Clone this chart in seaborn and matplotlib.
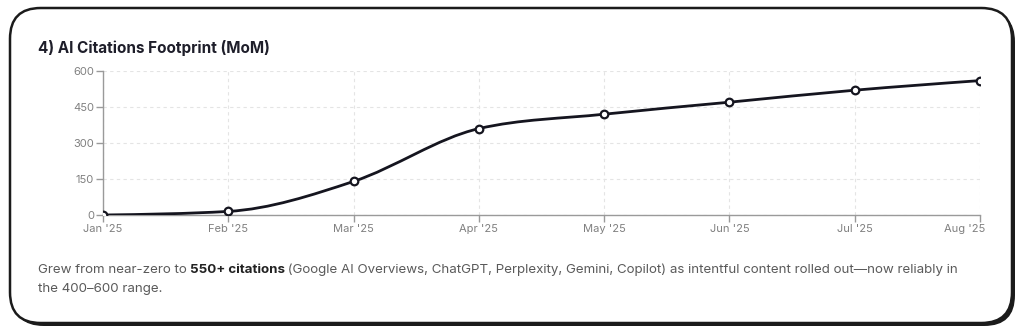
import numpy as np
import pandas as pd
import matplotlib
matplotlib.use("Agg")
import matplotlib.pyplot as plt
import matplotlib.transforms as mtransforms
import seaborn as sns
from matplotlib.patches import FancyBboxPatch, PathPatch
from matplotlib.path import Path

months = ["Jan '25", "Feb '25", "Mar '25", "Apr '25", "May '25", "Jun '25", "Jul '25", "Aug '25"]
citations = [0, 15, 140, 360, 420, 470, 520, 560]
y_ticks = [0, 150, 300, 450, 600]

title = "4) AI Citations Footprint (MoM)"
caption_parts = [
    ("Grew from near-zero to ", "normal"),
    ("550+ citations", "bold"),
    (" (Google AI Overviews, ChatGPT, Perplexity, Gemini, Copilot) as intentful content rolled out\u2014now reliably in", "normal"),
]
caption_line2 = "the 400\u2013600 range."

sns.set_theme(style="white")
plt.rcParams['font.family'] = ['Inter', 'DejaVu Sans']

W, H = 1024, 334
fig = plt.figure(figsize=(W / 100, H / 100), dpi=100)
fig.patch.set_facecolor("white")

def fx(px):
    return px / W

def fy(py):
    return 1 - py / H

# card shadow and card
shadow = FancyBboxPatch((fx(13), fy(326)), fx(1015 - 13), fy(11) - fy(326),
                        boxstyle="round,pad=0,rounding_size=0.03", transform=fig.transFigure,
                        facecolor="#1b1b1b", edgecolor="none", zorder=0, mutation_aspect=W / H)
fig.patches.append(shadow)
card = FancyBboxPatch((fx(10), fy(323)), fx(1012 - 10), fy(8) - fy(323),
                      boxstyle="round,pad=0,rounding_size=0.03", transform=fig.transFigure,
                      facecolor="white", edgecolor="#1b1b1b", linewidth=1.8, zorder=0.5,
                      mutation_aspect=W / H)
fig.patches.append(card)

ax = fig.add_axes([fx(103), fy(215), fx(980) - fx(103), fy(71) - fy(215)])
ax.set_facecolor("none")
ax.set_zorder(2)

df = pd.DataFrame({"month": months, "citations": citations, "x": np.arange(len(months))})

# smooth monotone (d3 monotoneX style) curve drawn as bezier path through the data points
x = df["x"].to_numpy(dtype=float)
y = df["citations"].to_numpy(dtype=float)
n = len(x)
h = np.diff(x)
d = np.diff(y) / h
m = np.zeros(n)
for i in range(1, n - 1):
    p = (d[i - 1] * h[i] + d[i] * h[i - 1]) / (h[i - 1] + h[i])
    m[i] = (np.sign(d[i - 1]) + np.sign(d[i])) * min(abs(d[i - 1]), abs(d[i]), 0.5 * abs(p))
m[0] = (3 * d[0] - m[1]) / 2
m[-1] = (3 * d[-1] - m[-2]) / 2
verts = [(x[0], y[0])]
codes = [Path.MOVETO]
for i in range(n - 1):
    dx = h[i] / 3
    verts += [(x[i] + dx, y[i] + m[i] * dx), (x[i + 1] - dx, y[i + 1] - m[i + 1] * dx), (x[i + 1], y[i + 1])]
    codes += [Path.CURVE4] * 3
ax.add_patch(PathPatch(Path(verts, codes), facecolor="none", edgecolor="#15151f", linewidth=2.0, zorder=3))

sns.scatterplot(data=df, x="x", y="citations", ax=ax, s=30, color="white",
                edgecolor="#15151f", linewidth=1.6, zorder=4, legend=False)

ax.set_xlim(0, n - 1)
ax.set_ylim(0, 600)
ax.set_xticks(range(n))
ax.set_xticklabels(months)
ax.set_yticks(y_ticks)
ax.set_yticklabels([str(v) for v in y_ticks])
ax.set_xlabel("")
ax.set_ylabel("")
ax.grid(True, color="#e4e4e4", linestyle=(0, (3, 3)), linewidth=0.8)
for s in ["top", "right"]:
    ax.spines[s].set_visible(False)
for s in ["left", "bottom"]:
    ax.spines[s].set_color("#9a9a9a")
    ax.spines[s].set_linewidth(1.0)
ax.tick_params(axis="both", colors="#9a9a9a", labelcolor="#808080", labelsize=8,
               length=5, width=1, direction="out", pad=1.5, bottom=True, left=True)

# last x label kept inside the plot edge
last = ax.get_xticklabels()[-1]
last.set_ha("right")
last.set_transform(last.get_transform() + mtransforms.ScaledTranslation(5 / 100, 0, fig.dpi_scale_trans))

fig.text(fx(38), fy(48), title, fontsize=11, fontweight="bold", color="#1e1e2a",
         ha="left", va="center")

# caption with bold run
renderer = fig.canvas.get_renderer()
xpos = fx(38)
for i, (txt, wt) in enumerate(caption_parts):
    t = fig.text(xpos, fy(270), txt, fontsize=9.6, fontweight=wt,
                 color="#222222" if wt == "bold" else "#5a5a5a", ha="left", va="center")
    bb = t.get_window_extent(renderer=renderer)
    xpos += (bb.width - (1 if wt == "bold" else 0)) / W
fig.text(fx(38), fy(289), caption_line2, fontsize=9.6, color="#5a5a5a", ha="left", va="center")

fig.savefig("out.png", dpi=100, facecolor="white")
